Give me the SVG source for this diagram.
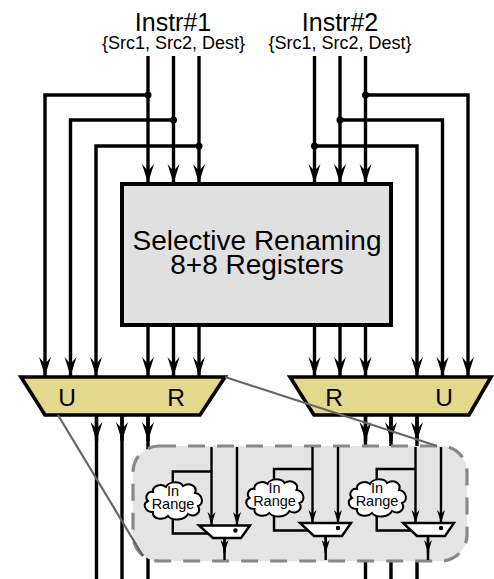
<svg xmlns="http://www.w3.org/2000/svg" width="494" height="579" viewBox="0 0 494 579">
<style>
text{font-family:"Liberation Sans",Arial,sans-serif;fill:#000;text-anchor:middle}
.w{fill:none;stroke:#000;stroke-width:3.4}
.a{marker-end:url(#big)}
.t{fill:none;stroke:#000;stroke-width:2.4}
.s{marker-end:url(#small)}
.m{fill:#e3d98c;stroke:#000;stroke-width:3.6;stroke-linejoin:miter}
.n{fill:#fff;stroke:#000;stroke-width:2.4}
.d{fill:none;stroke:#666;stroke-width:2.2}
.c{fill:#fff;stroke:#000;stroke-width:2}
</style>
<defs>
<marker id="big" markerUnits="userSpaceOnUse" markerWidth="14" markerHeight="20" refX="7" refY="19" orient="0" viewBox="0 0 14 20"><path d="M7 19L1 0L7 7L13 0Z" fill="#000"/></marker>
<marker id="small" markerUnits="userSpaceOnUse" markerWidth="10" markerHeight="14" refX="5" refY="13" orient="0" viewBox="0 0 10 14"><path d="M5 13L1 0L5 4L9 0Z" fill="#000"/></marker>
<path id="cloud" d="M8 10C7 4 16 1 21 5C24 -1 35 -1 38 4C44 0 53 4 50 11C58 12 59 22 53 24C57 31 49 36 43 32C39 39 27 39 23 34C18 39 7 37 8 30C0 30 -3 22 3 19C-1 15 3 9 8 10Z"/>
</defs>
<g id="connectors">
<path class="w a" d="M148 56V183"/><path class="w a" d="M173.500 56V183"/><path class="w a" d="M199 56V183"/>
<path class="w a" d="M314.500 56V183"/><path class="w a" d="M340 56V183"/><path class="w a" d="M365.500 56V183"/>
<path class="w a" d="M148 95H45V376"/><path class="w a" d="M173.500 120H70.500V376"/><path class="w a" d="M199 146H96V376"/>
<path class="w a" d="M365.500 95H468V376"/><path class="w a" d="M340 120H442.500V376"/><path class="w a" d="M314.500 146H417V376"/>
<path class="w a" d="M148 326V376"/><path class="w a" d="M173.500 326V376"/><path class="w a" d="M199 326V376"/>
<path class="w a" d="M314.500 326V376"/><path class="w a" d="M340 326V376"/><path class="w a" d="M365.500 326V376"/>
<path class="w" d="M96.500 415V579M122 415V579M148 415V579M365.500 415V579M391 415V579M417 415V579"/>
<path class="w a" d="M96.500 415V441"/><path class="w a" d="M122 415V441"/><path class="w a" d="M148 415V441"/>
<path class="w a" d="M365.500 415V441"/><path class="w a" d="M391 415V441"/><path class="w a" d="M417 415V441"/>
<g fill="#000"><circle cx="148" cy="95" r="3.500"/><circle cx="173.500" cy="120" r="3.500"/><circle cx="199" cy="146" r="3.500"/><circle cx="365.500" cy="95" r="3.500"/><circle cx="340" cy="120" r="3.500"/><circle cx="314.500" cy="146" r="3.500"/></g>
</g>
<g id="panel"><rect x="133" y="446" width="334" height="115" rx="26" fill="#e4e4e4" stroke="#888" stroke-width="3.200" stroke-dasharray="17 12"/></g>
<g id="connectors-inner">
<path class="t s" d="M211.500 447V525"/><path class="t s" d="M237 447V525"/>
<path class="t s" d="M312.500 447V523"/><path class="t s" d="M338 447V523"/>
<path class="t s" d="M415.500 447V523"/><path class="t s" d="M441 447V523"/>
<path class="t" d="M211.500 471.500H172.800V484M172.800 518V533.500H208"/>
<path class="t" d="M312.500 469H274V482M274 515V530.500H308"/>
<path class="t" d="M415.500 469H376.700V482M376.700 515V530.500H411"/>
<path class="t" d="M224.500 538V560M325.700 536V560M428 536V560"/>
<path class="t s" d="M224.500 538V553"/><path class="t s" d="M325.700 536V553"/><path class="t s" d="M428 536V553"/>
</g>
<g id="renaming"><rect x="122" y="184" width="269" height="141" fill="#e0e0e0" stroke="#000" stroke-width="4"/>
<text x="257" y="250" font-size="28">Selective Renaming</text><text x="257" y="274" font-size="28">8+8 Registers</text></g>
<g id="instr1"><text x="173" y="31" font-size="25">Instr#1</text><text x="173.500" y="49" font-size="18">{Src1, Src2, Dest}</text></g>
<g id="instr2"><text x="340" y="31" font-size="25">Instr#2</text><text x="340" y="49" font-size="18">{Src1, Src2, Dest}</text></g>
<g id="mux-left"><path class="m" d="M21 377H225L200 415H45Z"/><text x="67" y="406" font-size="24.500">U</text><text x="176" y="406" font-size="24.500">R</text></g>
<g id="mux-right"><path class="m" d="M290 377H491L469 415H314Z"/><text x="334" y="406" font-size="24.500">R</text><text x="444" y="406" font-size="24.500">U</text></g>
<g id="range1"><use href="#cloud" class="c" transform="translate(145,482)"/><text x="173" y="495.500" font-size="14.500">In</text><text x="173" y="509" font-size="14.500">Range</text></g>
<g id="range2"><use href="#cloud" class="c" transform="translate(246.500,479)"/><text x="274.500" y="492.500" font-size="14.500">In</text><text x="274.500" y="506" font-size="14.500">Range</text></g>
<g id="range3"><use href="#cloud" class="c" transform="translate(349,479)"/><text x="377" y="492.500" font-size="14.500">In</text><text x="377" y="506" font-size="14.500">Range</text></g>
<g id="smux1"><path class="n" d="M199 525.500H250L241 538H213Z"/><circle cx="235.500" cy="530.500" r="2.200"/></g>
<g id="smux2"><path class="n" d="M300 523H351L342 536H314Z"/><circle cx="338" cy="528" r="2.200"/></g>
<g id="smux3"><path class="n" d="M403 523H454L445 536H417Z"/><circle cx="441" cy="528" r="2.200"/></g>
<g id="callout"><path class="d" d="M225 377L437 446"/><path class="d" d="M58 415L143 556"/></g>
</svg>
